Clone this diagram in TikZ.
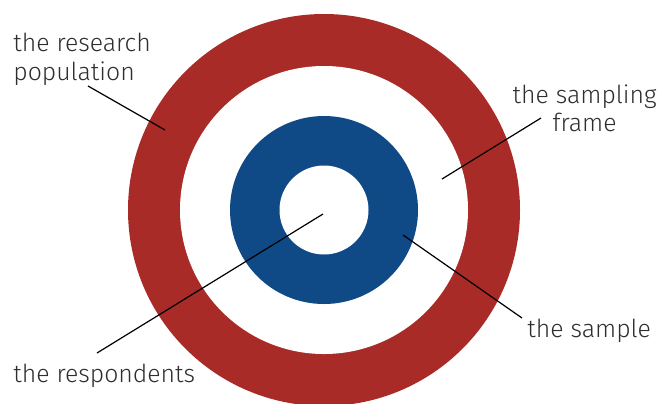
\documentclass[tikz,border=0pt]{standalone}
\usepackage{fontspec}
\setmainfont{Fira Sans Light}
\definecolor{ringred}{HTML}{A82B27}
\definecolor{ringblue}{HTML}{0F4A86}
\definecolor{labelgray}{HTML}{2E2E2E}

\begin{document}
\begin{tikzpicture}[x=0.5pt,y=-0.5pt,
  lbl/.style={text=labelgray,font=\fontsize{12.4}{14.3}\selectfont,inner sep=0pt},
  leader/.style={line width=0.6pt,black}]

\useasboundingbox (0,0) rectangle (658,403);

\coordinate (O) at (324,210);

% target rings
\fill[ringred]  (O) circle (196);
\fill[white]    (O) circle (144);
\fill[ringblue] (O) circle (94);
\fill[white]    (O) circle (44.5);

% labels
\node[lbl,align=left,anchor=north west] (pop) at (13,33) {the research\\population};
\node[lbl,align=center,anchor=north east] (frame) at (657,84) {the sampling\\frame};
\node[lbl,anchor=base west] (sample) at (527,337) {the sample};
\node[lbl,anchor=base west] (resp) at (13,382) {the respondents};

% leader ends
\coordinate (popFoot) at (88,86);
\coordinate (popTip) at (165,130);
\coordinate (frameFoot) at (541,118);
\coordinate (frameTip) at (442,179);
\coordinate (sampleFoot) at (522,318);
\coordinate (sampleTip) at (403,235);
\coordinate (respFoot) at (97,353);
\coordinate (respTip) at (323,214);

\draw[leader] (popFoot) -- (popTip);
\draw[leader] (frameFoot) -- (frameTip);
\draw[leader] (sampleFoot) -- (sampleTip);
\draw[leader] (respFoot) -- (respTip);

\end{tikzpicture}
\end{document}
